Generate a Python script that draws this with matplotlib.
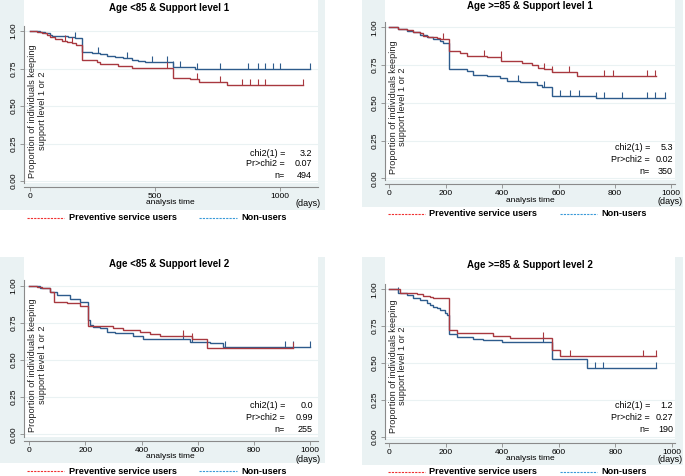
import numpy as np
import matplotlib
matplotlib.use("Agg")
import matplotlib.pyplot as plt
from matplotlib.path import Path
from matplotlib.patches import Rectangle
from matplotlib.lines import Line2D

plt.rcParams["font.family"] = ["Liberation Sans", "DejaVu Sans"]

# ---- data (days / proportion) ----
titles = ["Age <85 & Support level 1", "Age >=85 & Support level 1",
          "Age <85 & Support level 2", "Age >=85 & Support level 2"]
chi2_vals = ["3.2", "5.3", "0.0", "1.2"]
p_vals = ["0.07", "0.02", "0.99", "0.27"]
n_vals = ["494", "350", "255", "190"]

# Age <85, level 1
users1_t = [27, 47, 67, 80, 100, 127, 147, 167, 184, 209, 267, 280, 353, 407, 573, 640, 677, 787]
users1_s = [0.991, 0.984, 0.973, 0.958, 0.944, 0.936, 0.927, 0.918, 0.908, 0.804, 0.793,
            0.780, 0.767, 0.756, 0.690, 0.678, 0.660, 0.638]
users1_end = 1093
users1_cens = [140, 167, 547, 667, 760, 847, 880, 913, 940, 1093]
non1_t = [40, 60, 80, 87, 153, 180, 209, 247, 280, 307, 340, 373, 407, 433, 460, 573, 660]
non1_s = [0.991, 0.984, 0.976, 0.969, 0.962, 0.953, 0.858, 0.851, 0.844, 0.836, 0.827,
          0.818, 0.809, 0.800, 0.791, 0.762, 0.744]
non1_end = 1120
non1_cens = [180, 273, 387, 487, 547, 573, 600, 667, 760, 873, 913, 940, 973, 1000, 1120]

# Age >=85, level 1
users2_t = [32, 62, 85, 109, 121, 138, 168, 180, 212, 251, 275, 345, 396, 470, 505, 529,
            549, 576, 665]
users2_s = [0.991, 0.982, 0.971, 0.960, 0.943, 0.934, 0.927, 0.921, 0.843, 0.828, 0.810,
            0.801, 0.777, 0.766, 0.751, 0.733, 0.722, 0.706, 0.680]
users2_end = 947
users2_cens = [192, 336, 395, 549, 576, 636, 760, 795, 914, 943]
non2_t = [32, 62, 85, 109, 133, 156, 180, 192, 212, 275, 298, 345, 393, 417, 464, 523,
          541, 576, 734]
non2_s = [0.987, 0.978, 0.967, 0.951, 0.938, 0.921, 0.907, 0.898, 0.722, 0.711, 0.684,
          0.678, 0.662, 0.647, 0.638, 0.618, 0.607, 0.547, 0.530]
non2_end = 979
non2_cens = [458, 549, 606, 641, 671, 734, 760, 825, 914, 943, 979]

# Age <85, level 2
users3_t = [26, 44, 74, 89, 133, 180, 210, 299, 335, 394, 430, 466, 578, 632]
users3_s = [0.993, 0.982, 0.960, 0.892, 0.881, 0.863, 0.729, 0.717, 0.702, 0.688, 0.673,
            0.664, 0.639, 0.578]
users3_end = 941
users3_cens = [549, 578, 941]
non3_t = [38, 74, 97, 145, 180, 210, 216, 228, 252, 276, 305, 371, 406, 572, 644, 691]
non3_s = [0.987, 0.960, 0.937, 0.908, 0.892, 0.769, 0.735, 0.724, 0.713, 0.691, 0.679,
          0.661, 0.639, 0.623, 0.612, 0.590]
non3_end = 1000
non3_cens = [549, 578, 697, 911, 941, 1000]

# Age >=85, level 2
users4_t = [38, 97, 120, 144, 156, 212, 238, 368, 427, 575, 604]
users4_s = [0.977, 0.968, 0.955, 0.946, 0.939, 0.724, 0.706, 0.683, 0.672, 0.588, 0.548]
users4_end = 945
users4_cens = [545, 575, 640, 900, 945]
non4_t = [32, 61, 85, 109, 132, 144, 156, 168, 179, 197, 203, 212, 238, 298, 333, 398,
          575, 699]
non4_s = [0.973, 0.962, 0.939, 0.928, 0.910, 0.894, 0.882, 0.871, 0.860, 0.837, 0.826,
          0.697, 0.679, 0.665, 0.656, 0.640, 0.527, 0.468]
non4_end = 945
non4_cens = [32, 545, 575, 728, 758, 945]

xticks_list = [[0, 500, 1000], [0, 200, 400, 600, 800, 1000],
               [0, 200, 400, 600, 800, 1000], [0, 200, 400, 600, 800, 1000]]
yticks = [0.0, 0.25, 0.5, 0.75, 1.0]
ytick_labels = ["0.00", "0.25", "0.50", "0.75", "1.00"]

# ---- styling / layout (pixels) ----
W, H = 685, 476
GREY = "#eaf2f3"
RED = "#a8383f"
BLUE = "#2d5b8c"
AXC = "#8a8a8a"

fig = plt.figure(figsize=(W / 100, H / 100), dpi=100)
fig.patch.set_facecolor("white")


def fx(x):
    return x / W


def fy(y):
    return 1 - y / H


# grey box, white box, x calibration (px of 0 and 1000), y calibration (px of 1 and 0)
layout = [
    dict(grey=(0, 0, 325, 210), white=(24, 0, 318, 183), x0=30, x1000=280, y1=31, y0=181,
         title_xy=(169, 8), leg_y=218, leg_x=(27, 64, 69, 199, 237, 241),
         ann=(285, 312, [154, 164, 175]), ylab_x=(32, 43), ylab_y=111,
         atime=(170, 203), days=(308, 203)),
    dict(grey=(362, 0, 683, 207), white=(385, 0, 675, 180), x0=389.3, x1000=671.3, y1=27.3,
         y0=178.3, title_xy=(530, 6), leg_y=214, leg_x=(388, 425, 429, 560, 597, 601),
         ann=(650, 673, [148, 160, 171]), ylab_x=(393, 403), ylab_y=107,
         atime=(530, 200), days=(670, 202)),
    dict(grey=(0, 257, 325, 463), white=(24, 257, 318, 437), x0=29.3, x1000=310, y1=285.7,
         y0=434.3, title_xy=(169, 264), leg_y=471, leg_x=(27, 64, 69, 199, 237, 241),
         ann=(285, 313, [406, 417, 429]), ylab_x=(32, 43), ylab_y=365,
         atime=(170, 457), days=(308, 459)),
    dict(grey=(362, 257, 683, 465), white=(385, 257, 675, 439), x0=389.3, x1000=671.7,
         y1=289.3, y0=436.7, title_xy=(530, 265), leg_y=472,
         leg_x=(388, 425, 429, 560, 597, 601),
         ann=(650, 673, [406, 417, 429]), ylab_x=(393, 403), ylab_y=366,
         atime=(530, 458), days=(670, 460)),
]

curves = [
    ((users1_t, users1_s, users1_end, users1_cens), (non1_t, non1_s, non1_end, non1_cens)),
    ((users2_t, users2_s, users2_end, users2_cens), (non2_t, non2_s, non2_end, non2_cens)),
    ((users3_t, users3_s, users3_end, users3_cens), (non3_t, non3_s, non3_end, non3_cens)),
    ((users4_t, users4_s, users4_end, users4_cens), (non4_t, non4_s, non4_end, non4_cens)),
]

tick_marker = Path([(0, 0), (0, 1)])


def draw_km(ax, times, surv, end, cens, color):
    t = [0] + list(times) + [end]
    s = [1.0] + list(surv) + [surv[-1]]
    ax.step(t, s, where="post", color=color, lw=1.0, solid_joinstyle="miter")
    idx = np.searchsorted(times, cens, side="right") - 1
    cy = [surv[i] if i >= 0 else 1.0 for i in idx]
    ax.plot(cens, cy, ls="none", marker=tick_marker, markersize=8,
            markeredgewidth=0.8, markeredgecolor=color)


for i, L in enumerate(layout):
    gx0, gy0, gx1, gy1 = L["grey"]
    fig.patches.append(Rectangle((fx(gx0), fy(gy1)), fx(gx1 - gx0), (gy1 - gy0) / H,
                                 transform=fig.transFigure, facecolor=GREY,
                                 edgecolor="none", zorder=-10))
    wx0, wy0, wx1, wy1 = L["white"]
    ax = fig.add_axes([fx(wx0), fy(wy1), fx(wx1 - wx0), (wy1 - wy0) / H])
    ax.set_facecolor("white")
    ax.set_zorder(1)

    ppd = (L["x1000"] - L["x0"]) / 1000.0
    ax.set_xlim((wx0 - L["x0"]) / ppd, (wx1 - L["x0"]) / ppd)
    ppu = L["y0"] - L["y1"]
    ylo = (L["y0"] - wy1) / ppu
    yhi = (L["y0"] - wy0) / ppu
    ax.set_ylim(ylo, yhi)

    for yv in yticks:
        ax.axhline(yv, color=GREY, lw=0.8, zorder=0)

    users, non = curves[i]
    draw_km(ax, *non, BLUE)
    draw_km(ax, *users, RED)

    for sp in ["top", "right"]:
        ax.spines[sp].set_visible(False)
    ax.spines["left"].set_color(AXC)
    ax.spines["bottom"].set_color(AXC)
    ax.spines["left"].set_linewidth(0.8)
    ax.spines["bottom"].set_linewidth(0.8)
    ax.spines["left"].set_bounds(ylo, 1.035)
    ax.spines["bottom"].set_position(("outward", 3))

    ax.set_yticks(yticks)
    ax.set_yticklabels(ytick_labels, rotation=90, va="center", fontsize=6)
    ax.set_xticks(xticks_list[i])
    ax.set_xticklabels([str(v) for v in xticks_list[i]], fontsize=6)
    ax.tick_params(axis="both", length=3, width=0.6, color=AXC, pad=1.5)

    # title
    fig.text(fx(L["title_xy"][0]), fy(L["title_xy"][1]), titles[i], ha="center",
             va="center", fontsize=7, fontweight="bold", zorder=5)
    # y label (inside plot region)
    fig.text(fx((L["ylab_x"][0] + L["ylab_x"][1]) / 2), fy(L["ylab_y"]),
             "Proportion of individuals keeping\nsupport level 1 or 2", rotation=90,
             ha="center", va="center", multialignment="center", fontsize=6.6,
             linespacing=1.05, color="#222222", zorder=5)
    # x axis title and units
    fig.text(fx(L["atime"][0]), fy(L["atime"][1]), "analysis time", ha="center",
             va="center", fontsize=6, zorder=5)
    fig.text(fx(L["days"][0]), fy(L["days"][1]), "(days)", ha="center", va="center",
             fontsize=6.5, zorder=5)
    # log-rank annotation
    lx, vx, rows = L["ann"]
    for lab, val, yy in zip(["chi2(1) =", "Pr>chi2 =", "n="],
                            [chi2_vals[i], p_vals[i], n_vals[i]], rows):
        fig.text(fx(lx), fy(yy), lab, ha="right", va="center", fontsize=6.5, zorder=5)
        fig.text(fx(vx), fy(yy), val, ha="right", va="center", fontsize=6.5, zorder=5)
    # legend
    a0, a1, atx, b0, b1, btx = L["leg_x"]
    ly = L["leg_y"]
    fig.lines.append(Line2D([fx(a0), fx(a1)], [fy(ly), fy(ly)], transform=fig.transFigure,
                            color="#f03030", lw=0.8, ls=(0, (2, 1))))
    fig.lines.append(Line2D([fx(b0), fx(b1)], [fy(ly), fy(ly)], transform=fig.transFigure,
                            color="#3a9ad9", lw=0.8, ls=(0, (2, 1))))
    fig.text(fx(atx), fy(ly), "Preventive service users", ha="left", va="center",
             fontsize=6.6, fontweight="bold")
    fig.text(fx(btx), fy(ly), "Non-users", ha="left", va="center", fontsize=6.6,
             fontweight="bold")

fig.savefig("out.png", dpi=100, facecolor="white")
